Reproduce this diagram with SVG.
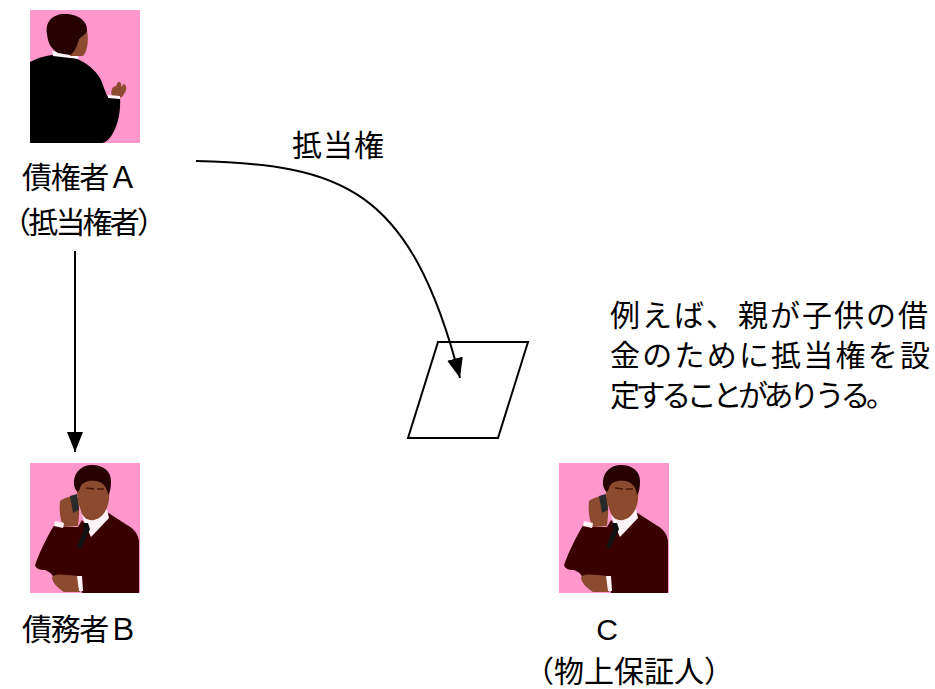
<svg xmlns="http://www.w3.org/2000/svg" xmlns:xlink="http://www.w3.org/1999/xlink" width="935" height="689" viewBox="0 0 935 689">
  <style>
    .lbl { font-family: "Liberation Sans", "Noto Sans CJK JP", sans-serif; font-size: 30px; fill: #000; }
    .edge { fill: none; stroke: #000; stroke-width: 2; }
    .bg { fill: #FF96CC; }
    .skin { fill: #8C4A2E; }
    .hair { fill: #260202; }
    .white { fill: #FFF4F8; }
  </style>
  <defs>
    <marker id="arrowBig" viewBox="0 0 20 16" refX="20" refY="8" markerWidth="20" markerHeight="16" markerUnits="userSpaceOnUse" orient="auto">
      <path d="M0,0 L20,8 L0,16 Z" fill="#000"/>
    </marker>
    <!-- man on the phone, drawn in a 110x130 box -->
    <g id="caller">
      <rect class="bg" x="0" y="0" width="110" height="130"/>
      <!-- suit -->
      <path fill="#3A0000" d="M32,64 L25,61 C18,72 10,88 5,102 C6,106 10,107 15,107 C20,109 23,112 23,114 L50,115 L52,130 L109,130 L109,78 C108,70 103,65 97,62 L77,49 L60,67 L52,57 L48,64 Z"/>
      <!-- collar -->
      <path class="white" d="M52,52 L77,46 L79,55 L61,74 L56,63 Z"/>
      <!-- tie -->
      <path fill="#101010" d="M53,60 L58,60 L60,66 L51,86 L47,84 L54,66 Z"/>
      <!-- head -->
      <path class="skin" d="M47,18 C49,9 60,7 70,9 C79,11 80,24 79,36 C78,46 73,55 64,57 C58,58 53,55 51,48 C48,40 46,28 47,18 Z"/>
      <path class="hair" d="M44,22 C43,9 52,2 62,2 C73,2 81,8 81,18 C81,24 80,30 78,32 C77,24 73,19 66,18 C58,17 52,19 50,25 C49,30 46,30 44,22 Z"/>
      <path d="M56,25 L64,26 M67,26 L74,26" stroke="#4A1A0A" stroke-width="1.5" fill="none"/>
      <!-- raised hand with phone -->
      <path class="skin" d="M30,38 C35,34 44,32 48,35 C50,42 49,55 48,63 L34,64 C30,58 29,46 30,38 Z"/>
      <path fill="#2A2A2A" d="M40,33 L47,31 L49,47 L43,50 Z"/>
      <path class="white" d="M25,58 L34,60 L33,65 L24,63 Z"/>
      <!-- lower hand -->
      <path class="skin" d="M22,114 C26,110 36,112 48,113 L50,129 L34,129 C28,125 22,120 22,114 Z"/>
      <path class="white" d="M47,113 L52,113 L53,128 L49,128 Z"/>
    </g>
  </defs>

  <!-- creditor A, seen from behind -->
  <g id="creditor">
    <rect class="bg" x="30" y="10" width="110" height="133"/>
    <path fill="#000" d="M30,62 C40,57 48,55 54,55 L75,58 C86,62 95,70 100,78 C103,84 105,92 108,97 L120,97 C121,110 118,125 113,133 C110,139 105,143 102,143 L30,143 Z"/>
    <path class="white" d="M52,51 L76,52 L79,59 L53,56 Z"/>
    <path class="skin" d="M68,34 L87,30 C89,42 87,52 83,56 L70,56 Z"/>
    <path class="hair" d="M47,34 C45,22 52,14 65,14 C78,14 88,21 87,31 C85,35 81,37 79,39 C77,47 74,53 70,55 L58,53 C51,49 48,43 47,34 Z"/>
    <path class="skin" d="M112,96 C110,90 113,86 116,86 L118,82 C121,82 122,84 121,87 L124,84 C127,86 127,90 124,94 C123,97 120,98 117,98 Z"/>
    <path class="white" d="M108,95 L120,96 L120,99 L108,98 Z"/>
    <text class="lbl" x="22" y="188" textLength="116" lengthAdjust="spacing">債権者Ａ</text>
    <text class="lbl" x="1" y="233" textLength="166" lengthAdjust="spacing">（抵当権者）</text>
  </g>

  <!-- debtor B -->
  <g id="debtor">
    <use xlink:href="#caller" x="30" y="463"/>
    <text class="lbl" x="22" y="640" textLength="116" lengthAdjust="spacing">債務者Ｂ</text>
  </g>

  <!-- C, third-party guarantor -->
  <g id="guarantor">
    <use xlink:href="#caller" x="559" y="463"/>
    <text class="lbl" x="607" y="640" text-anchor="middle">C</text>
    <text class="lbl" x="524" y="682" textLength="210" lengthAdjust="spacing">（物上保証人）</text>
  </g>

  <!-- mortgaged property -->
  <g id="property">
    <polygon points="438,342 528,342 498,438 408,438" fill="#fff" stroke="#000" stroke-width="2"/>
  </g>

  <!-- note -->
  <g id="note">
    <text class="lbl" x="610" y="326" textLength="318" lengthAdjust="spacing">例えば、親が子供の借</text>
    <text class="lbl" x="610" y="366" textLength="320" lengthAdjust="spacing">金のために抵当権を設</text>
    <text class="lbl" x="610" y="406" textLength="286" lengthAdjust="spacing">定することがありうる。</text>
  </g>

  <!-- connectors -->
  <g id="connectors">
    <path class="edge" d="M75,251 L75,452" marker-end="url(#arrowBig)"/>
    <path class="edge" d="M196,161 C340,165 410,185 460,378" marker-end="url(#arrowBig)"/>
    <text class="lbl" x="292" y="156" textLength="92" lengthAdjust="spacing">抵当権</text>
  </g>
</svg>
